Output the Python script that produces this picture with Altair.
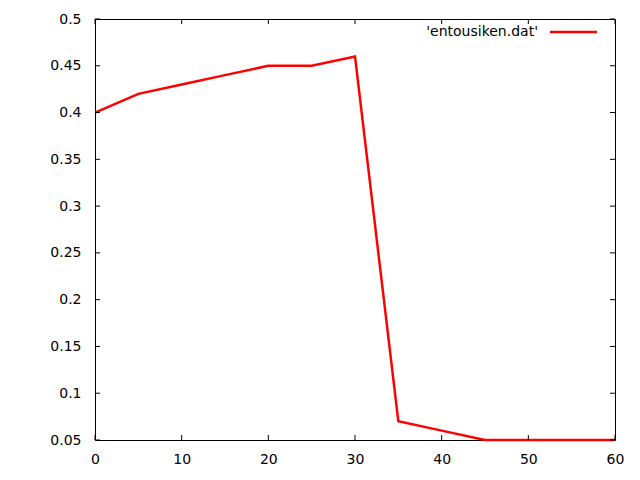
import altair as alt
import pandas as pd

x_vals = [0, 5, 10, 15, 20, 25, 30, 35, 40, 45, 50, 55, 60]
y_vals = [0.40, 0.42, 0.43, 0.44, 0.45, 0.45, 0.46, 0.07, 0.06, 0.05, 0.05, 0.05, 0.05]
x_ticks = [0, 10, 20, 30, 40, 50, 60]
y_ticks = [0.05, 0.1, 0.15, 0.2, 0.25, 0.3, 0.35, 0.4, 0.45, 0.5]
legend_label = "'entousiken.dat'"

W, H = 520, 421
FONT = "DejaVu Sans"
FS = 14
TL = 5
LW = 2.5

df = pd.DataFrame({"x": x_vals, "y": y_vals})
xt = pd.DataFrame({"x": x_ticks})
yt = pd.DataFrame({"y": y_ticks})

xscale = alt.Scale(domain=[0, 60], nice=False, zero=False)
yscale = alt.Scale(domain=[0.05, 0.5], nice=False, zero=False)

line = alt.Chart(df).mark_line(color="#ff0000", strokeWidth=LW, clip=False).encode(
    x=alt.X("x:Q", scale=xscale,
            axis=alt.Axis(title=None, values=x_ticks, grid=False, ticks=False, domain=False,
                          labelFont=FONT, labelFontSize=FS, labelColor="#000000",
                          labelPadding=12, labelFlush=False)),
    y=alt.Y("y:Q", scale=yscale,
            axis=alt.Axis(title=None, values=y_ticks, grid=False, ticks=False, domain=False,
                          format="~g", labelFont=FONT, labelFontSize=FS, labelColor="#000000",
                          labelPadding=14, labelFlush=False)),
)

xb = alt.Chart(xt).mark_rule(color="black", strokeWidth=1).encode(
    x=alt.X("x:Q", scale=xscale), y=alt.value(H), y2=alt.value(H - TL))
xtp = alt.Chart(xt).mark_rule(color="black", strokeWidth=1).encode(
    x=alt.X("x:Q", scale=xscale), y=alt.value(0), y2=alt.value(TL))
yl = alt.Chart(yt).mark_rule(color="black", strokeWidth=1).encode(
    y=alt.Y("y:Q", scale=yscale), x=alt.value(0), x2=alt.value(TL))
yr = alt.Chart(yt).mark_rule(color="black", strokeWidth=1).encode(
    y=alt.Y("y:Q", scale=yscale), x=alt.value(W), x2=alt.value(W - TL))

leg_df = pd.DataFrame({"label": [legend_label]})
leg_text = alt.Chart(leg_df).mark_text(align="right", baseline="middle", font=FONT,
                                       fontSize=FS, color="black").encode(
    x=alt.value(443), y=alt.value(13), text="label:N")
leg_line = alt.Chart(leg_df).mark_rule(color="#ff0000", strokeWidth=LW).encode(
    x=alt.value(455), x2=alt.value(502), y=alt.value(13))

chart = alt.layer(line, xb, xtp, yl, yr, leg_text, leg_line).properties(
    width=W, height=H,
    autosize=alt.AutoSizeParams(type="none"),
    padding={"left": 87, "top": 11, "right": 17, "bottom": 31},
    background="white",
).configure_view(stroke="black", strokeWidth=1)

chart.save("out.html", embed_options={"renderer": "svg", "actions": False})
